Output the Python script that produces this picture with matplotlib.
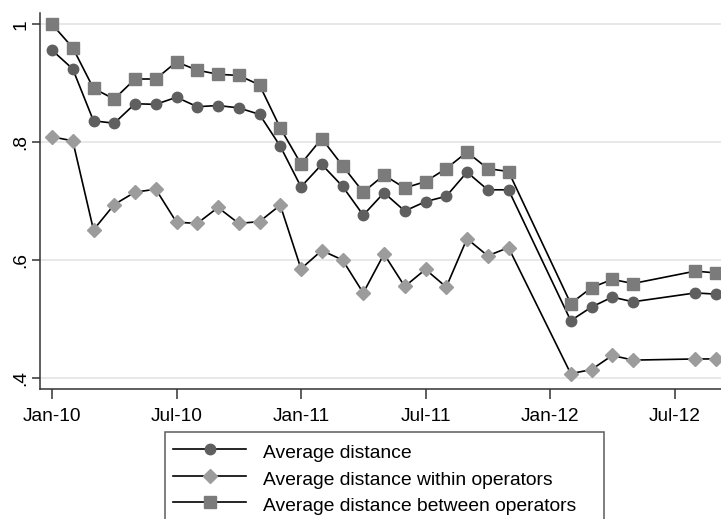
import matplotlib
matplotlib.use("Agg")
import matplotlib.pyplot as plt
import numpy as np

plt.rcParams['font.family'] = ['Liberation Sans', 'DejaVu Sans']

# months since Jan-2010
months = [0, 1, 2, 3, 4, 5, 6, 7, 8, 9, 10, 11, 12, 13, 14, 15, 16, 17, 18, 19, 20, 21, 22,
          25, 26, 27, 28, 31, 32]
avg_distance = [0.956, 0.924, 0.836, 0.832, 0.865, 0.864, 0.876, 0.860, 0.862, 0.858, 0.847,
                0.793, 0.724, 0.762, 0.725, 0.676, 0.714, 0.683, 0.699, 0.708, 0.749, 0.719,
                0.719, 0.497, 0.520, 0.537, 0.529, 0.544, 0.542]
avg_within = [0.809, 0.802, 0.651, 0.694, 0.715, 0.720, 0.664, 0.662, 0.689, 0.662, 0.665,
              0.693, 0.585, 0.616, 0.600, 0.544, 0.610, 0.555, 0.584, 0.554, 0.636, 0.607,
              0.621, 0.407, 0.414, 0.438, 0.430, 0.432, 0.432]
avg_between = [1.000, 0.960, 0.891, 0.873, 0.907, 0.907, 0.936, 0.922, 0.915, 0.913, 0.897,
               0.824, 0.763, 0.806, 0.760, 0.715, 0.744, 0.722, 0.733, 0.755, 0.783, 0.755,
               0.750, 0.526, 0.553, 0.567, 0.560, 0.581, 0.578]
series_labels = ["Average distance", "Average distance within operators",
                 "Average distance between operators"]
xtick_pos = [0, 6, 12, 18, 24, 30]
xtick_labels = ["Jan-10", "Jul-10", "Jan-11", "Jul-11", "Jan-12", "Jul-12"]
ytick_pos = [0.4, 0.6, 0.8, 1.0]
ytick_labels = [".4", ".6", ".8", "1"]

W, H = 721, 519
fig = plt.figure(figsize=(W / 100, H / 100), dpi=100)
ax_left, ax_right, ax_top, ax_bottom = 40, 721, 12.7, 389.3
ax = fig.add_axes([ax_left / W, 1 - ax_bottom / H, (ax_right - ax_left) / W,
                   (ax_bottom - ax_top) / H])

lw = 1.2
ax.plot(months, avg_distance, color='black', lw=lw, marker='o', ms=7.5,
        mfc='#5f5f5f', mec='#5f5f5f', label=series_labels[0], zorder=3)
ax.plot(months, avg_within, color='black', lw=lw, marker='D', ms=7.0,
        mfc='#9c9c9c', mec='#9c9c9c', label=series_labels[1], zorder=3)
ax.plot(months, avg_between, color='black', lw=lw, marker='s', ms=8.0,
        mfc='#7b7b7b', mec='#7b7b7b', label=series_labels[2], zorder=3)

px_per_month = 20.75
x0 = -(52 - ax_left) / px_per_month
x1 = x0 + (ax_right - ax_left) / px_per_month
ax.set_xlim(x0, x1)
ax.set_ylim(0.3805, 1.0195)

ax.set_xticks(xtick_pos)
ax.set_xticklabels(xtick_labels, fontsize=13.8)
ax.set_yticks(ytick_pos)
ax.set_yticklabels(ytick_labels, fontsize=13.8, rotation=90, va='center')

ax.grid(axis='y', color='#e6e6e6', lw=1.3, zorder=0)
ax.set_axisbelow(True)
for s in ['top', 'right']:
    ax.spines[s].set_visible(False)
for s in ['left', 'bottom']:
    ax.spines[s].set_color('#333333')
    ax.spines[s].set_linewidth(1.1)
ax.tick_params(axis='x', length=7.5, width=1.1, color='#333333', pad=6)
ax.tick_params(axis='y', length=6, width=1.1, color='#333333', pad=1.5)

leg_l, leg_r, leg_t = 165, 604, 432.3
leg = fig.legend(loc='upper left',
                 bbox_to_anchor=(leg_l / W, 0, (leg_r - leg_l) / W, 1 - leg_t / H),
                 mode='expand', fontsize=13.9, frameon=True, fancybox=False,
                 edgecolor='#333333', handlelength=3.8, handletextpad=0.85,
                 handleheight=1.4, labelspacing=0.22, borderpad=0.42, borderaxespad=0)
leg.get_frame().set_linewidth(1.1)

fig.savefig("out.png", dpi=100)
